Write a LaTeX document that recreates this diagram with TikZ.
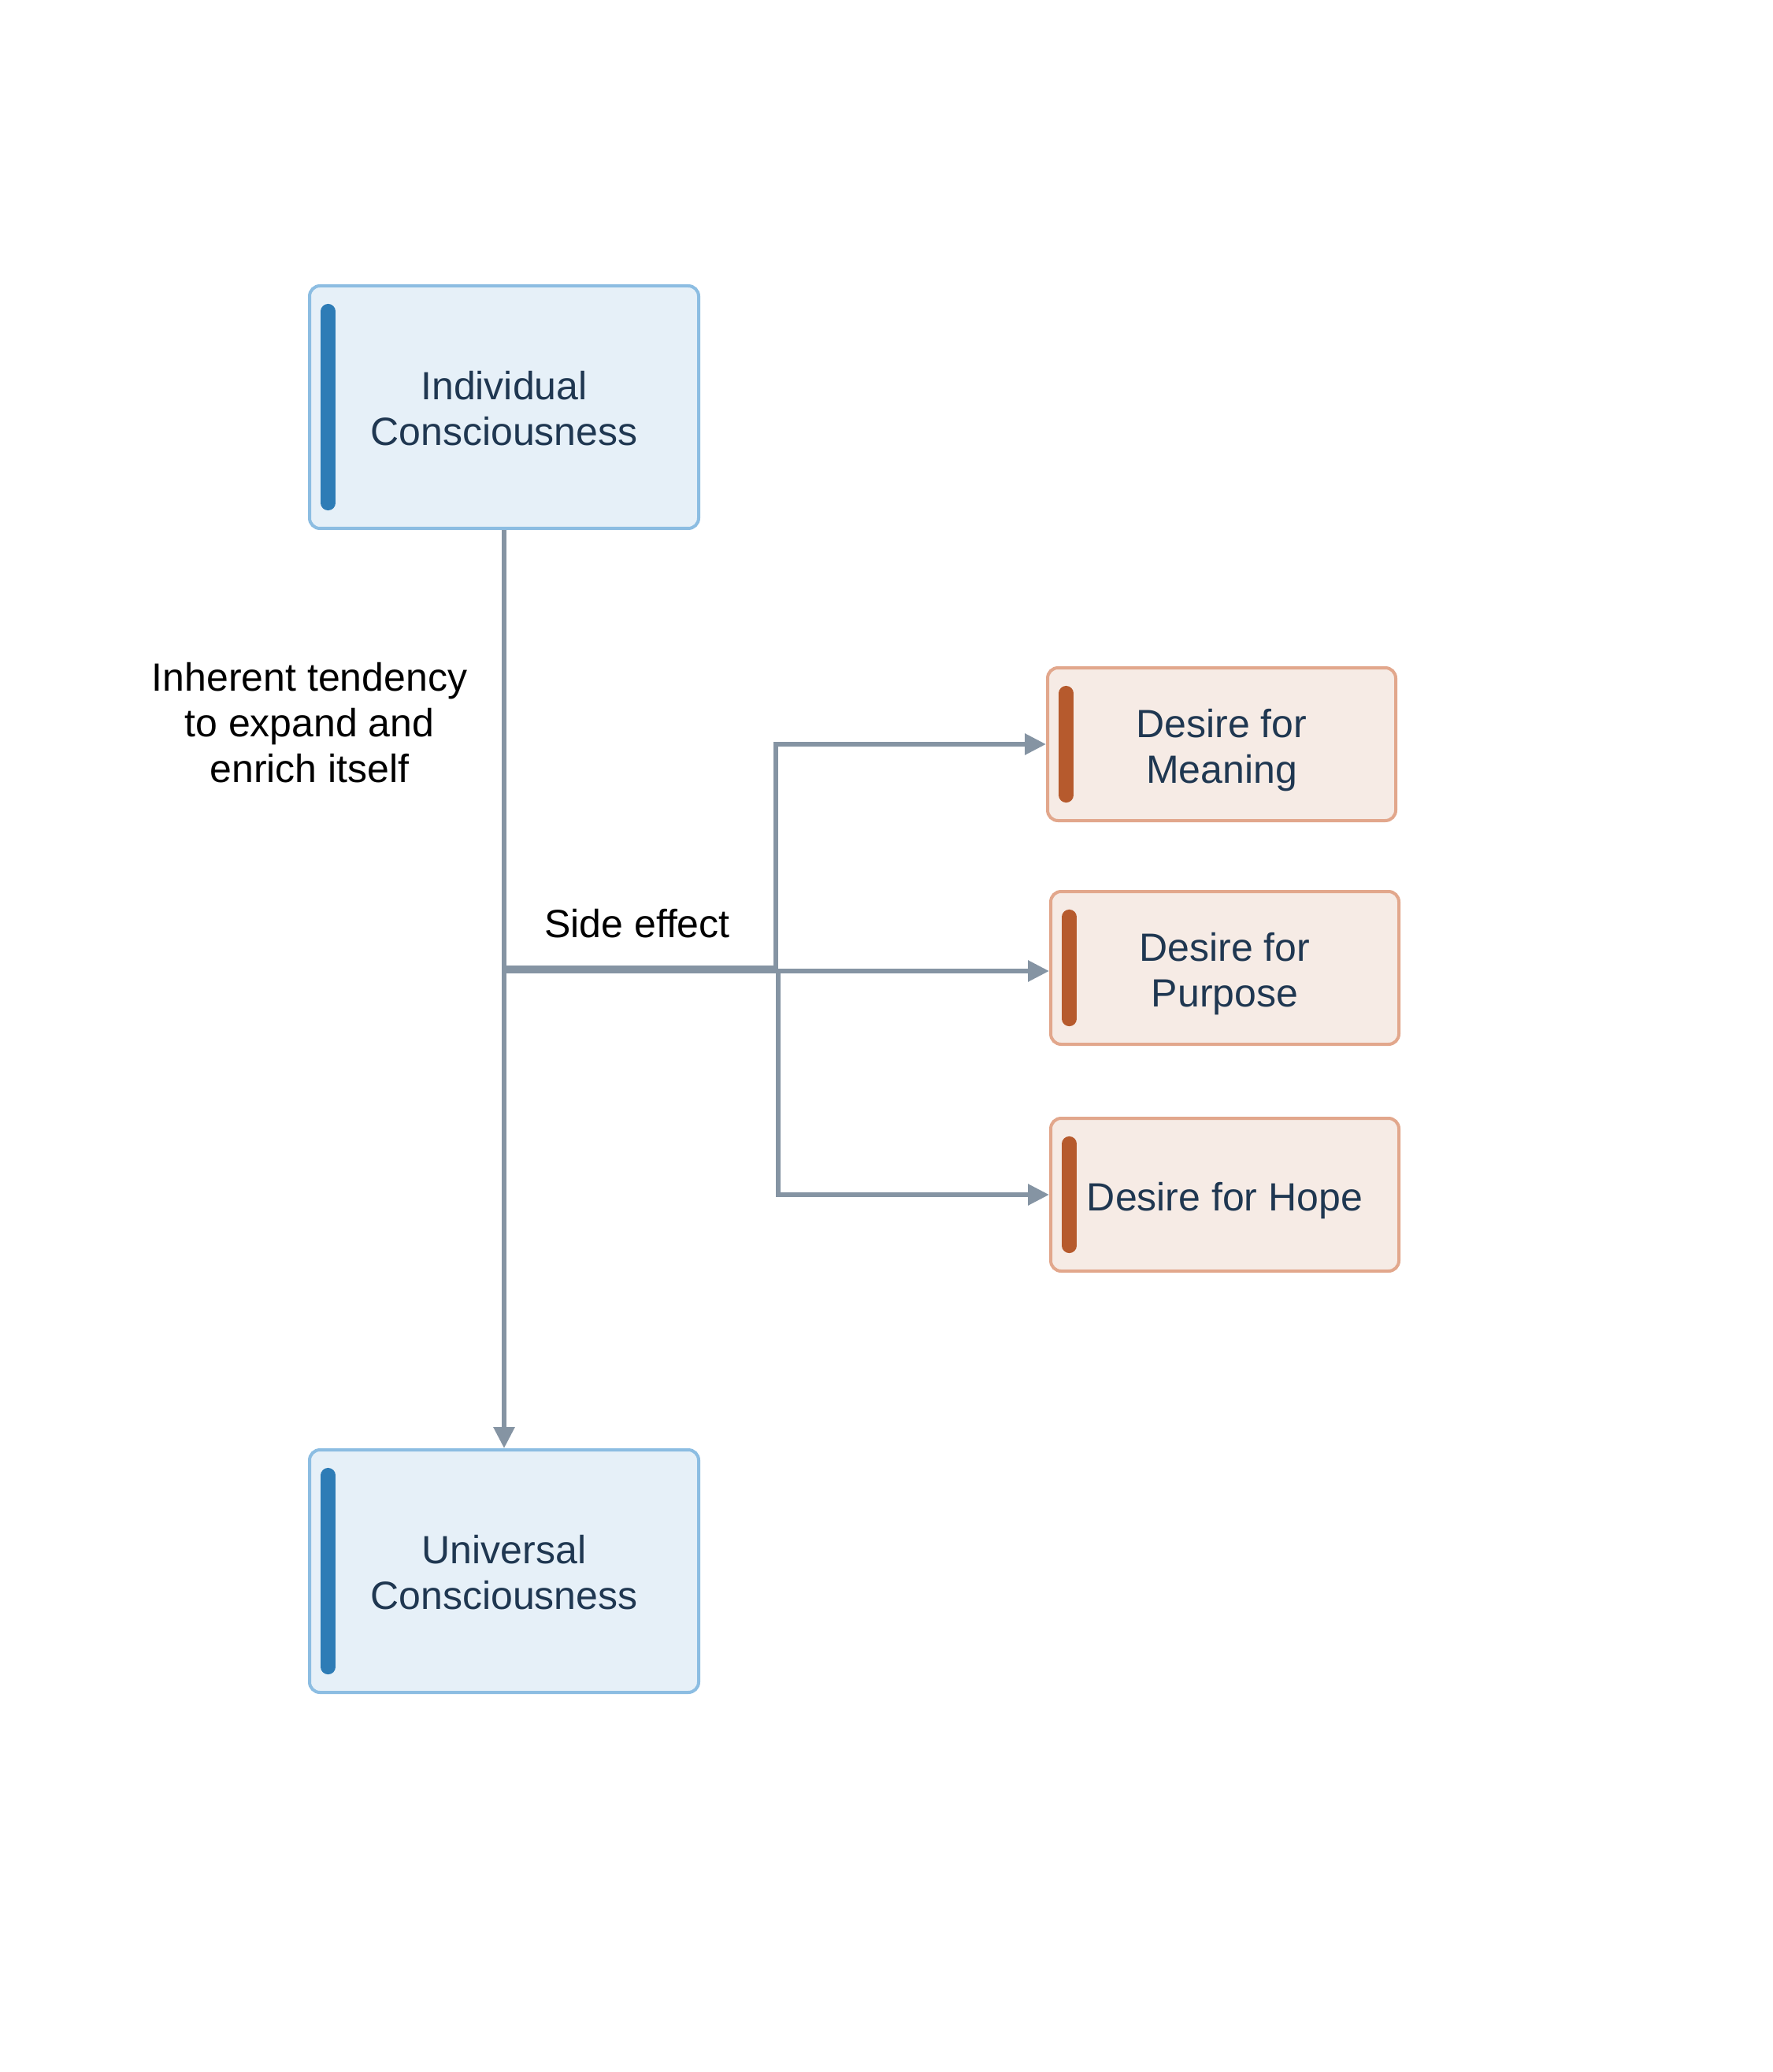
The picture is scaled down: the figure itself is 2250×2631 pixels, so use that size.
\documentclass[tikz,border=0pt]{standalone}
\usepackage{fontspec}
\setmainfont{Liberation Sans}
\usetikzlibrary{arrows.meta}
\definecolor{blufill}{HTML}{E6F0F8}
\definecolor{bluline}{HTML}{8CBDE2}
\definecolor{blubar}{HTML}{2E7CB6}
\definecolor{orfill}{HTML}{F6EBE5}
\definecolor{orline}{HTML}{E2A78C}
\definecolor{orbar}{HTML}{B65A2D}
\definecolor{navy}{HTML}{1F3751}
\definecolor{linkgray}{HTML}{8594A3}
\newcommand\blustrut{\rule{0pt}{10pt}}
\newcommand\orstrut{\rule{0pt}{13pt}}

\begin{document}
\begin{tikzpicture}[x=0.25pt,y=-0.25pt,
   txt/.style={font=\fontsize{12.5}{14.5}\selectfont,align=center},
   bluebox/.style={txt,draw=bluline,fill=blufill,line width=1pt,rounded corners=3.3pt,
      minimum width=123.5pt,minimum height=77pt,text=navy},
   orbox/.style={txt,draw=orline,fill=orfill,line width=1pt,rounded corners=3.3pt,
      minimum width=110.5pt,minimum height=48.5pt,text=navy},
   bluebar/.style={draw=blubar,line width=4.75pt,line cap=round},
   orbar/.style={draw=orbar,line width=4.75pt,line cap=round},
   link/.style={draw=linkgray,line width=1.5pt},
   tip/.style={-{Triangle[length=6.75pt,width=6.5pt]}}]

   \useasboundingbox (0,0) rectangle (2250,2631);

   \node[bluebox] (ind) at (640,517) {\blustrut Individual\\Consciousness};
   \node[bluebox] (uni) at (640,1995) {\blustrut Universal\\Consciousness};
   \node[orbox] (mea) at (1551,945) {\orstrut Desire for\\Meaning};
   \node[orbox] (pur) at (1555,1229) {\orstrut Desire for\\Purpose};
   \node[orbox] (hop) at (1555,1517) {\orstrut Desire for Hope};

   \draw[bluebar] ([xshift=6.4pt,yshift=-8.6pt]ind.north west) -- ([xshift=6.4pt,yshift=8.6pt]ind.south west);
   \draw[bluebar] ([xshift=6.4pt,yshift=-8.6pt]uni.north west) -- ([xshift=6.4pt,yshift=8.6pt]uni.south west);
   \draw[orbar] ([xshift=6.4pt,yshift=-8.6pt]mea.north west) -- ([xshift=6.4pt,yshift=8.6pt]mea.south west);
   \draw[orbar] ([xshift=6.4pt,yshift=-8.6pt]pur.north west) -- ([xshift=6.4pt,yshift=8.6pt]pur.south west);
   \draw[orbar] ([xshift=6.4pt,yshift=-8.6pt]hop.north west) -- ([xshift=6.4pt,yshift=8.6pt]hop.south west);

   \coordinate (jm) at (640,1229);
   \coordinate (jh) at (640,1233);
   \coordinate (hm) at (985,1229);
   \coordinate (hh) at (988,1233);

   \draw[link,tip] (ind) -- (uni);
   \draw[link,tip] (jm) -- (hm) |- (mea.west);
   \draw[link,tip] (jh) -- (jh -| pur.west);
   \draw[link,tip] (jh) -- (hh) |- (hop.west);

   \node[txt] (tend) at (393,918) {Inherent tendency\\to expand and\\enrich itself};
   \node[txt] (side) at (809,1173) {Side effect};

\end{tikzpicture}
\end{document}
